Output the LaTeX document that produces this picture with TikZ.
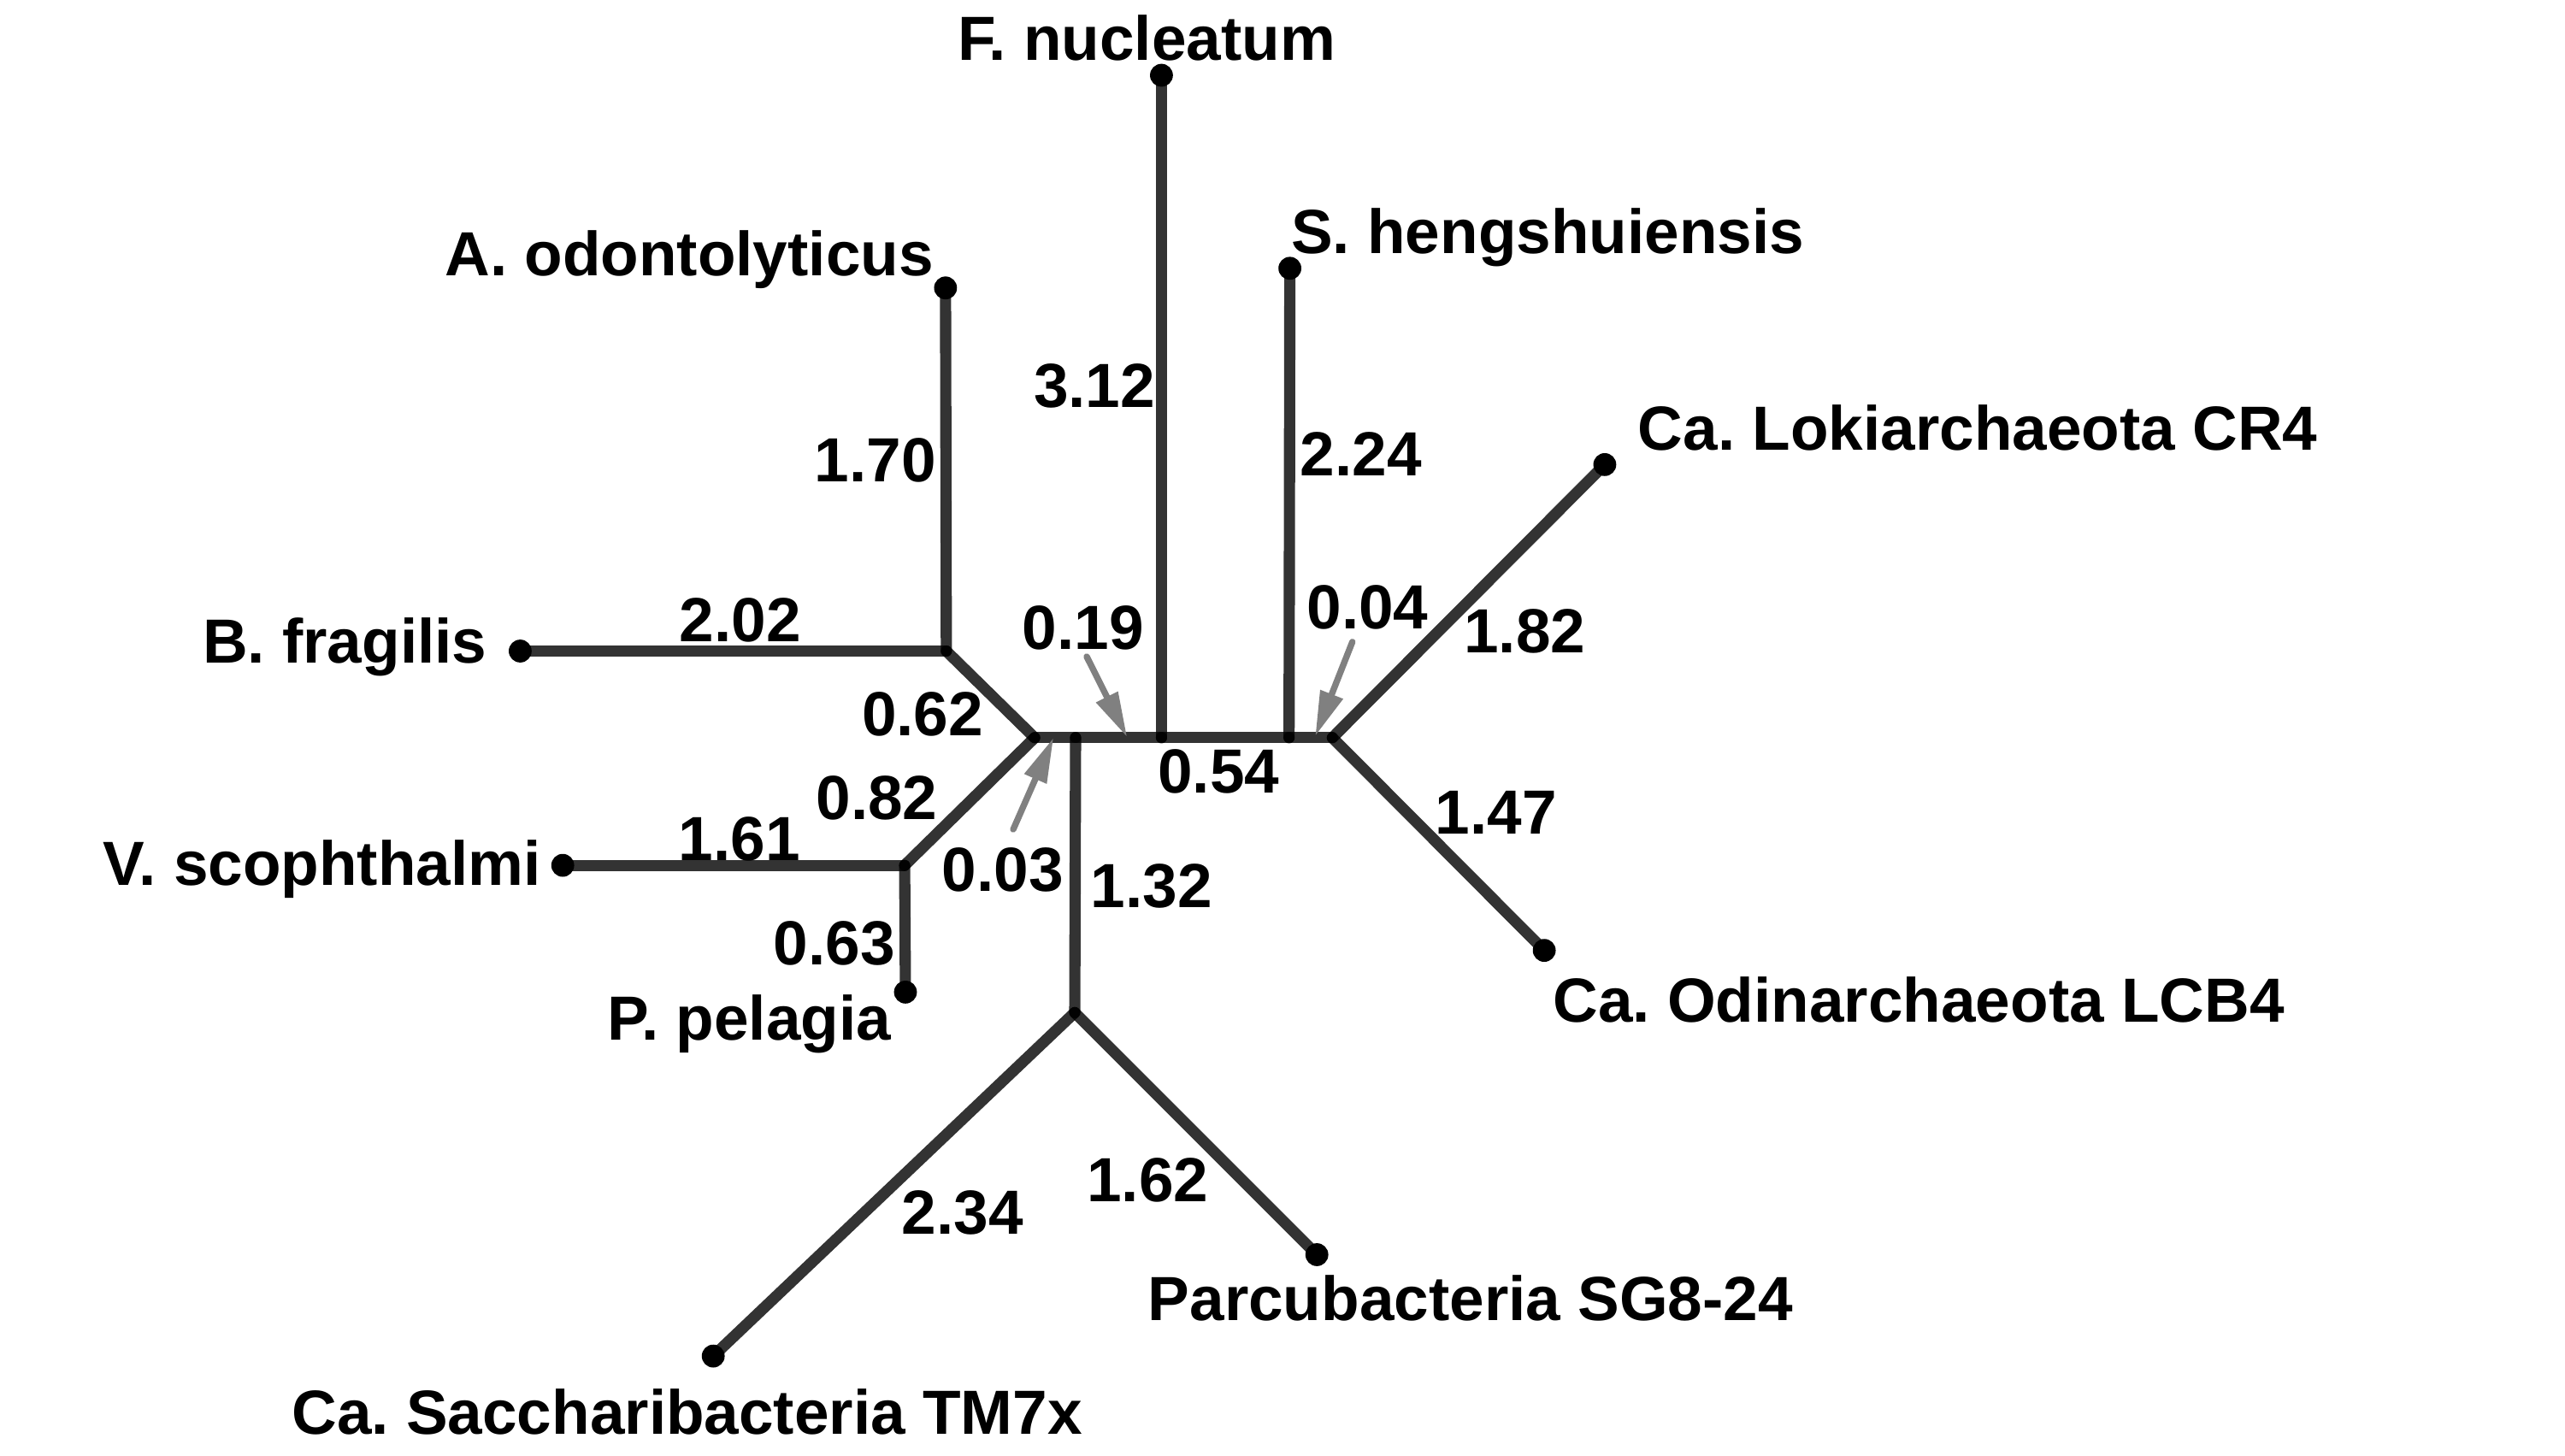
\documentclass[tikz,border=0pt]{standalone}
\usepackage{fontspec}
\setmainfont{Liberation Sans}
\usetikzlibrary{arrows.meta}
\definecolor{arrowgray}{RGB}{128,128,128}
\begin{document}
\begin{tikzpicture}[x=0.02cm,y=-0.02cm,
  branch/.style={line width=3.9pt, draw=black, draw opacity=0.8, line cap=round},
  lbl/.style={font=\fontsize{21.7}{24}\selectfont\bfseries, inner sep=0pt, text=black},
  pointer/.style={draw=arrowgray, fill=arrowgray, line width=2.2pt, line cap=round, -{Triangle[length=0.55cm,width=0.28cm]}}]
\useasboundingbox[fill=white] (0,0) rectangle (1568,890);
% internal nodes
\coordinate (L) at (632.5,451);
\coordinate (C1) at (657.5,451);
\coordinate (FJ) at (710,451);
\coordinate (SJ) at (788,451);
\coordinate (R) at (814.5,451);
\coordinate (AJ) at (578.5,398);
\coordinate (VJ) at (553,529);
\coordinate (BJ) at (657,619);
% leaves
\coordinate (AL) at (578,176);
\coordinate (BL) at (318,398);
\coordinate (VL) at (344,529);
\coordinate (PL) at (553.5,606.5);
\coordinate (TL) at (436,829);
\coordinate (QL) at (805,767);
\coordinate (FL) at (710,46);
\coordinate (SL) at (788.5,164);
\coordinate (KL) at (981,284);
\coordinate (OL) at (944,581);
% branches
\draw[branch] (L) -- (AJ);
\draw[branch] (AJ) -- (AL);
\draw[branch] (AJ) -- (BL);
\draw[branch] (L) -- (VJ);
\draw[branch] (VJ) -- (VL);
\draw[branch] (VJ) -- (PL);
\draw[branch] (L) -- (C1);
\draw[branch] (C1) -- (BJ);
\draw[branch] (BJ) -- (TL);
\draw[branch] (BJ) -- (QL);
\draw[branch] (C1) -- (FJ);
\draw[branch] (FJ) -- (FL);
\draw[branch] (FJ) -- (SJ);
\draw[branch] (SJ) -- (SL);
\draw[branch] (SJ) -- (R);
\draw[branch] (R) -- (KL);
\draw[branch] (R) -- (OL);
% leaf dots
\foreach \p in {AL,BL,VL,PL,TL,QL,FL,SL,KL,OL}
  \fill[black] (\p) circle[radius=0.14cm];
% taxon labels
\node[lbl,anchor=base] (tF) at (701,36.6) {F.\ nucleatum};
\node[lbl,anchor=base west] (tS) at (789,155) {S.\ hengshuiensis};
\node[lbl,anchor=base east] (tA) at (571,168.5) {A.\ odontolyticus};
\node[lbl,anchor=base west] (tK) at (1001,275) {Ca.\ Lokiarchaeota CR4};
\node[lbl,anchor=base east] (tB) at (298,405.5) {B.\ fragilis};
\node[lbl,anchor=base east] (tV) at (331,541) {V.\ scophthalmi};
\node[lbl,anchor=base east] (tP) at (545,636) {P.\ pelagia};
\node[lbl,anchor=base west] (tO) at (949,625) {Ca.\ Odinarchaeota LCB4};
\node[lbl,anchor=base west] (tQ) at (701.5,807) {Parcubacteria SG8-24};
\node[lbl,anchor=base east] (tT) at (662,877) {Ca.\ Saccharibacteria TM7x};
% branch lengths
\node[lbl,anchor=base] (n312) at (669,249) {3.12};
\node[lbl,anchor=base] (n170) at (535,294.5) {1.70};
\node[lbl,anchor=base] (n224) at (832,291) {2.24};
\node[lbl,anchor=base] (n202) at (452.5,392.5) {2.02};
\node[lbl,anchor=base] (n019) at (662,397) {0.19};
\node[lbl,anchor=base] (n004) at (836,384.5) {0.04};
\node[lbl,anchor=base] (n182) at (932,399) {1.82};
\node[lbl,anchor=base] (n062) at (564,449.5) {0.62};
\node[lbl,anchor=base] (n082) at (536,501) {0.82};
\node[lbl,anchor=base] (n054) at (745,485) {0.54};
\node[lbl,anchor=base] (n161) at (452,526) {1.61};
\node[lbl,anchor=base] (n147) at (914.5,510) {1.47};
\node[lbl,anchor=base] (n003) at (613,545) {0.03};
\node[lbl,anchor=base] (n132) at (704,555) {1.32};
\node[lbl,anchor=base] (n063) at (510,590) {0.63};
\node[lbl,anchor=base] (n162) at (701.5,734.5) {1.62};
\node[lbl,anchor=base] (n234) at (588.5,754.5) {2.34};
% pointer arrows
\coordinate (a1s) at (664.3,401.4);
\coordinate (a1e) at (689,450.6);
\coordinate (a2s) at (619.4,507);
\coordinate (a2e) at (644,451);
\coordinate (a3s) at (826.7,392.4);
\coordinate (a3e) at (804,450);
\draw[pointer] (a1s) -- (a1e);
\draw[pointer] (a2s) -- (a2e);
\draw[pointer] (a3s) -- (a3e);
\end{tikzpicture}
\end{document}
